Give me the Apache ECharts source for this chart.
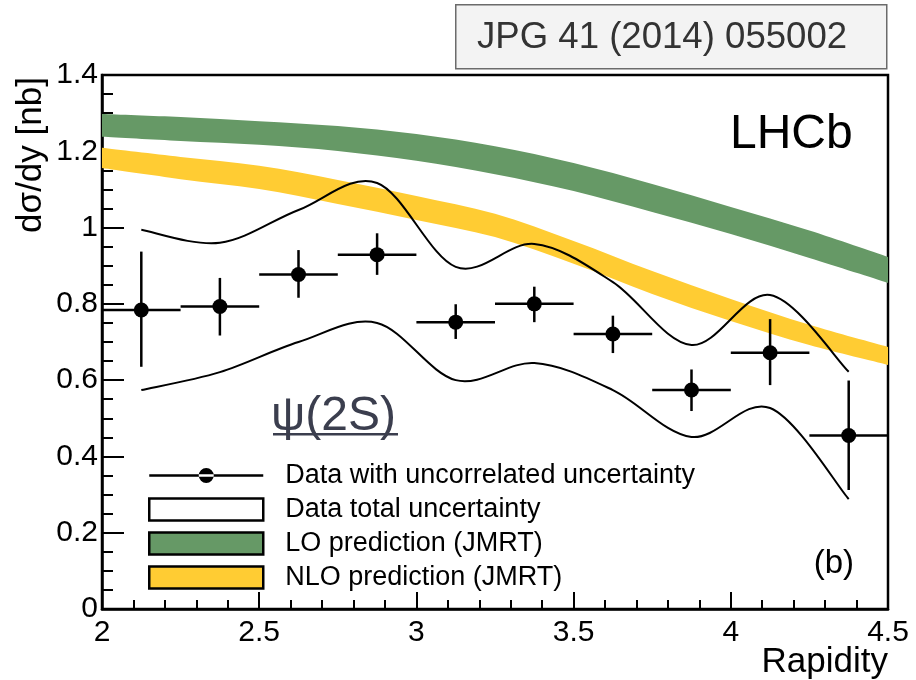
<!DOCTYPE html>
<html>
<head>
<meta charset="utf-8">
<script src="https://cdn.jsdelivr.net/npm/echarts@6/dist/echarts.min.js"></script>
<style>
  html, body { margin: 0; padding: 0; background: #ffffff; }
  #chart { width: 916px; height: 680px; }
</style>
</head>
<body>
<div id="chart"></div>
<script>
// Rapidity binning of the psi(2S) measurement
const binEdges = [2.0, 2.25, 2.5, 2.75, 3.0, 3.25, 3.5, 3.75, 4.0, 4.25, 4.5];
const binCenters = [2.125, 2.375, 2.625, 2.875, 3.125, 3.375, 3.625, 3.875, 4.125, 4.375];

// dsigma/dy [nb] with uncorrelated uncertainty bounds
const xsec       = [0.784, 0.793, 0.877, 0.929, 0.752, 0.800, 0.721, 0.574, 0.672, 0.455];
const uncorrLow  = [0.635, 0.717, 0.816, 0.876, 0.708, 0.752, 0.671, 0.519, 0.587, 0.312];
const uncorrHigh = [0.937, 0.868, 0.941, 0.985, 0.799, 0.845, 0.769, 0.628, 0.760, 0.599];

// Total uncertainty envelope at the bin centres
const totalHigh = [0.994, 0.960, 1.046, 1.117, 0.897, 0.957, 0.857, 0.692, 0.823, 0.622];
const totalLow  = [0.574, 0.621, 0.700, 0.750, 0.600, 0.645, 0.574, 0.451, 0.527, 0.288];

// JMRT predictions (LO and NLO bands)
const theoryY  = [2.0, 2.25, 2.5, 2.75, 3.0, 3.25, 3.5, 3.75, 4.0, 4.25, 4.5];
const loHigh   = [1.298, 1.290, 1.279, 1.266, 1.245, 1.213, 1.169, 1.114, 1.054, 0.992, 0.923];
const loLow    = [1.238, 1.227, 1.217, 1.201, 1.175, 1.140, 1.096, 1.041, 0.983, 0.920, 0.855];
const nloHigh  = [1.209, 1.185, 1.162, 1.125, 1.083, 1.036, 0.965, 0.886, 0.813, 0.745, 0.687];
const nloLow   = [1.156, 1.127, 1.101, 1.062, 1.020, 0.975, 0.905, 0.826, 0.755, 0.692, 0.640];

// Axis ticks
const xTicks = [2, 2.5, 3, 3.5, 4, 4.5];
const yTicks = [0, 0.2, 0.4, 0.6, 0.8, 1.0, 1.2, 1.4];

const FONT = '"Liberation Sans", Arial, Helvetica, sans-serif';
const GREEN = '#669966';
const YELLOW = '#ffcc33';

const NAME_DATA = 'Data with uncorrelated uncertainty';
const NAME_TOTAL = 'Data total uncertainty';
const NAME_LO = 'LO prediction (JMRT)';
const NAME_NLO = 'NLO prediction (JMRT)';

// Catmull-Rom curve through pixel points, as SVG cubic segments (no initial move)
function splineSegments(pts) {
  let d = '';
  for (let i = 0; i < pts.length - 1; i++) {
    const p0 = pts[Math.max(i - 1, 0)], p1 = pts[i], p2 = pts[i + 1], p3 = pts[Math.min(i + 2, pts.length - 1)];
    const c1x = p1[0] + (p2[0] - p0[0]) / 6, c1y = p1[1] + (p2[1] - p0[1]) / 6;
    const c2x = p2[0] - (p3[0] - p1[0]) / 6, c2y = p2[1] - (p3[1] - p1[1]) / 6;
    d += ' C' + c1x + ',' + c1y + ' ' + c2x + ',' + c2y + ' ' + p2[0] + ',' + p2[1];
  }
  return d;
}

// A filled prediction band between two smooth edges
function bandSeries(name, lows, highs, color) {
  return {
    name: name,
    type: 'custom',
    coordinateSystem: 'cartesian2d',
    silent: true,
    clip: true,
    z: 1,
    itemStyle: { color: color },
    encode: { x: 0, y: [1, 2] },
    data: theoryY.map((x, i) => [x, lows[i], highs[i]]),
    renderItem: function (params, api) {
      if (params.dataIndex !== 0) return null;
      const top = theoryY.map((x, i) => api.coord([x, highs[i]]));
      const bot = theoryY.map((x, i) => api.coord([x, lows[i]])).reverse();
      const d = 'M' + top[0][0] + ',' + top[0][1] + splineSegments(top) +
        ' L' + bot[0][0] + ',' + bot[0][1] + splineSegments(bot) + ' Z';
      return { type: 'path', shape: { pathData: d }, style: { fill: color } };
    }
  };
}

// One smooth edge of the total-uncertainty envelope
function envelopeSeries(values) {
  return {
    name: NAME_TOTAL,
    type: 'custom',
    coordinateSystem: 'cartesian2d',
    silent: true,
    z: 3,
    itemStyle: { color: '#000' },
    encode: { x: 0, y: 1 },
    data: binCenters.map((x, i) => [x, values[i]]),
    renderItem: function (params, api) {
      if (params.dataIndex !== 0) return null;
      const pts = binCenters.map((x, i) => api.coord([x, values[i]]));
      const d = 'M' + pts[0][0] + ',' + pts[0][1] + splineSegments(pts);
      return { type: 'path', shape: { pathData: d }, style: { fill: 'none', stroke: '#000', lineWidth: 2 } };
    }
  };
}

const errorData = binCenters.map((x, i) => [x, xsec[i], uncorrLow[i], uncorrHigh[i], binEdges[i], binEdges[i + 1]]);

// legend glyph: horizontal line with a filled dot, drawn in a 114x22 box
const markerIcon = 'path://M0,0 L0.01,0 L0,0.01 Z M114,22 L113.99,22 L114,21.99 Z ' +
  'M0,9.7 L114,9.7 L114,12.3 L0,12.3 Z ' +
  'M49.5,11 A7.5,7.5 0 1,0 64.5,11 A7.5,7.5 0 1,0 49.5,11 Z';

const chart = echarts.init(document.getElementById('chart'), null, { renderer: 'canvas' });

const axisCommon = {
  type: 'value',
  splitLine: { show: false },
  axisLine: { show: true, onZero: false, lineStyle: { color: '#000', width: 2.5 } },
  axisLabel: { color: '#000', fontSize: 30, fontFamily: FONT }
};

chart.setOption({
  animation: false,
  backgroundColor: '#ffffff',
  grid: {
    left: 102, right: 28, top: 75, bottom: 71,
    show: true, borderColor: '#000', borderWidth: 2.5, backgroundColor: 'transparent'
  },
  xAxis: Object.assign({}, axisCommon, {
    min: xTicks[0], max: xTicks[xTicks.length - 1], interval: xTicks[1] - xTicks[0],
    axisTick: { show: true, inside: true, length: 17, lineStyle: { color: '#000', width: 2 } },
    minorTick: { show: true, splitNumber: 5, length: 9, lineStyle: { color: '#000', width: 2 } },
    axisLabel: Object.assign({}, axisCommon.axisLabel, { margin: 9 })
  }),
  yAxis: Object.assign({}, axisCommon, {
    min: yTicks[0], max: yTicks[yTicks.length - 1], interval: yTicks[1] - yTicks[0],
    axisTick: { show: true, inside: true, length: 22, lineStyle: { color: '#000', width: 2 } },
    minorTick: { show: true, splitNumber: 4, length: 11, lineStyle: { color: '#000', width: 2 } },
    axisLabel: Object.assign({}, axisCommon.axisLabel, { margin: 4 })
  }),
  legend: {
    orient: 'vertical',
    left: 143, top: 457,
    itemWidth: 114, itemHeight: 22, itemGap: 7,
    selectedMode: false,
    textStyle: { color: '#000', fontSize: 27, fontFamily: FONT, padding: [0, 0, 0, 17] },
    data: [
      { name: NAME_DATA, icon: markerIcon, itemStyle: { color: '#000', borderWidth: 0 } },
      { name: NAME_TOTAL, icon: 'rect', itemStyle: { color: '#ffffff', borderColor: '#000', borderWidth: 2.5 } },
      { name: NAME_LO, icon: 'rect', itemStyle: { color: GREEN, borderColor: '#000', borderWidth: 2.5 } },
      { name: NAME_NLO, icon: 'rect', itemStyle: { color: YELLOW, borderColor: '#000', borderWidth: 2.5 } }
    ]
  },
  series: [
    bandSeries(NAME_LO, loLow, loHigh, GREEN),
    bandSeries(NAME_NLO, nloLow, nloHigh, YELLOW),
    envelopeSeries(totalHigh),
    envelopeSeries(totalLow),
    {
      name: NAME_DATA, type: 'custom', coordinateSystem: 'cartesian2d', silent: true, z: 4,
      itemStyle: { color: '#000' },
      encode: { x: 0, y: [1, 2, 3] },
      data: errorData,
      renderItem: function (params, api) {
        const x = api.value(0), y = api.value(1);
        const lo = api.value(2), hi = api.value(3);
        const e0 = api.value(4), e1 = api.value(5);
        const pl = api.coord([e0, y]), pr = api.coord([e1, y]);
        const pt = api.coord([x, hi]), pb = api.coord([x, lo]);
        const pc = api.coord([x, y]);
        const ls = { stroke: '#000', lineWidth: 2.5 };
        return {
          type: 'group',
          children: [
            { type: 'line', shape: { x1: pl[0], y1: pl[1], x2: pr[0], y2: pr[1] }, style: ls },
            { type: 'line', shape: { x1: pt[0], y1: pt[1], x2: pb[0], y2: pb[1] }, style: ls },
            { type: 'circle', shape: { cx: pc[0], cy: pc[1], r: 7.5 }, style: { fill: '#000' } }
          ]
        };
      }
    }
  ],
  graphic: [
    {
      type: 'rect', left: 455, top: 4, z: 10,
      shape: { width: 431, height: 64 },
      style: { fill: '#f3f3f3', stroke: '#6b6b6b', lineWidth: 1.5 }
    },
    {
      type: 'text', z: 11, x: 477, y: 38,
      style: { text: 'JPG 41 (2014) 055002', font: '36.6px ' + FONT, fill: '#333333', textVerticalAlign: 'middle' }
    },
    {
      type: 'text', z: 11, x: 730, y: 135,
      style: { text: 'LHCb', font: '48px ' + FONT, fill: '#000', textVerticalAlign: 'middle' }
    },
    {
      type: 'text', z: 11, x: 854, y: 564,
      style: { text: '(b)', font: '33px ' + FONT, fill: '#000', textAlign: 'right', textVerticalAlign: 'middle' }
    },
    {
      type: 'text', z: 11, x: 271, y: 417,
      style: { text: 'ψ(2S)', font: '48px ' + FONT, fill: '#3b3e4e', textVerticalAlign: 'middle' }
    },
    {
      type: 'rect', z: 11, left: 273, top: 433,
      shape: { width: 125, height: 2.5 },
      style: { fill: '#3b3e4e' }
    },
    {
      type: 'text', z: 11, x: 31, y: 155, rotation: Math.PI / 2,
      style: { text: 'dσ/dy [nb]', font: '35px ' + FONT, fill: '#000', textAlign: 'center', textVerticalAlign: 'middle' }
    },
    {
      type: 'text', z: 11, x: 888, y: 662,
      style: { text: 'Rapidity', font: '35px ' + FONT, fill: '#000', textAlign: 'right', textVerticalAlign: 'middle' }
    }
  ]
});
</script>
</body>
</html>
